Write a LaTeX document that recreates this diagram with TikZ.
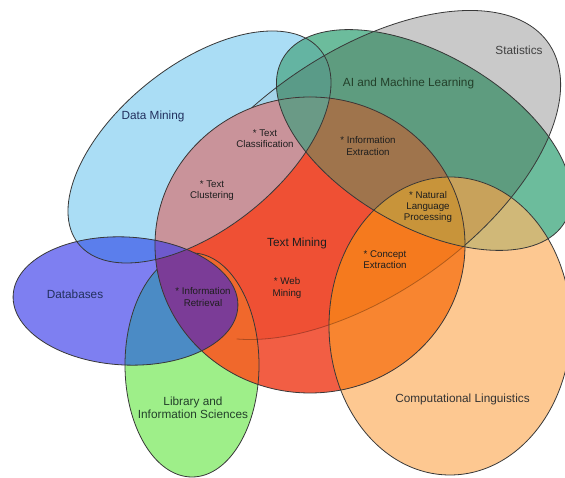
\documentclass[tikz,border=0pt]{standalone}
\usepackage{fontspec}
\setmainfont{Liberation Sans}
\definecolor{cGray}{HTML}{C9C9C9}
\definecolor{cDM}{HTML}{AADDF5}
\definecolor{cGreen}{HTML}{6CBC9C}
\definecolor{cCL}{HTML}{FDC891}
\definecolor{cDB}{HTML}{7E7FF1}
\definecolor{cLib}{HTML}{9EEF89}
\definecolor{cTM}{HTML}{F25E44}
\definecolor{cDMGray}{HTML}{A4D4EA}
\definecolor{cGG}{HTML}{5E9C7F}
\definecolor{cDMG}{HTML}{64B4A2}
\definecolor{cDMGG}{HTML}{5A9B88}
\definecolor{cCLG}{HTML}{D0B878}
\definecolor{cCLGG}{HTML}{C8A25B}
\definecolor{cDBDM}{HTML}{5B7EEC}
\definecolor{cDBLib}{HTML}{4B8BC5}
\definecolor{cTMG}{HTML}{EF5034}
\definecolor{cPink}{HTML}{C9939A}
\definecolor{cBrown}{HTML}{9F744C}
\definecolor{cDMTMG}{HTML}{6A9A86}
\definecolor{cOrange}{HTML}{F88530}
\definecolor{cOrangeG}{HTML}{F57A1E}
\definecolor{cGold}{HTML}{C8943A}
\definecolor{cTMLib}{HTML}{F0682C}
\definecolor{cPurple}{HTML}{7B3C97}
\definecolor{cTMDBDM}{HTML}{6E5ACD}
\definecolor{cTxt}{HTML}{1E1E1E}
\definecolor{cTxtBlue}{HTML}{22305E}
\definecolor{cTxtGreen}{HTML}{23402A}
\newcommand\ShDM[1]{\path[#1,shift={(199.5,331)},rotate=38.6] (0,0) ellipse[x radius=155,y radius=82];}
\newcommand\ShGray[1]{\path[#1,shift={(360,303)},rotate=35] (0,0) ellipse[x radius=230,y radius=120];}
\newcommand\ShGreen[1]{\path[#1,shift={(424,338)},rotate=-30] (0,0) ellipse[x radius=163,y radius=86];}
\newcommand\ShTM[1]{\path[#1] (310,233) ellipse[x radius=155,y radius=148];}
\newcommand\ShCL[1]{\path[#1] (450,152) ellipse[x radius=121,y radius=149];}
\newcommand\ShDB[1]{\path[#1,shift={(125.5,177)},rotate=-3] (0,0) ellipse[x radius=112.5,y radius=64];}
\newcommand\ShLib[1]{\path[#1] (192,113) ellipse[x radius=67,y radius=112];}
\newcommand\Two[3]{\begin{scope}#1{clip}#2{fill=#3}\end{scope}}
\newcommand\Three[4]{\begin{scope}#1{clip}#2{clip}#3{fill=#4}\end{scope}}
\begin{document}
\begin{tikzpicture}[x=0.75pt,y=0.75pt,
  outline/.style={draw=black!78,line width=0.6pt},
  faint/.style={draw=black,draw opacity=0.28,line width=0.6pt},
  lbl/.style={font=\fontsize{8.85}{9.8}\selectfont,text=cTxt,inner sep=0pt,align=center},
  sm/.style={font=\fontsize{7.3}{8.6}\selectfont,text=cTxt,inner sep=0pt,align=center}]
\useasboundingbox (0,0) rectangle (565,478);
\fill[white] (0,0) rectangle (565,478);
% single sets
\ShGray{fill=cGray}
\ShDM{fill=cDM}
\ShGreen{fill=cGreen}
\ShCL{fill=cCL}
\ShDB{fill=cDB}
\ShLib{fill=cLib}
% overlaps outside Text Mining
\Two\ShDM\ShGray{cDMGray}
\Two\ShGreen\ShGray{cGG}
\Two\ShDM\ShGreen{cDMG}
\Three\ShDM\ShGreen\ShGray{cDMGG}
\Two\ShCL\ShGreen{cCLG}
\Three\ShCL\ShGreen\ShGray{cCLGG}
\Two\ShDB\ShDM{cDBDM}
\Two\ShDB\ShLib{cDBLib}
\ShGray{outline}
% Text Mining and its overlaps
\ShTM{fill=cTM}
\Two\ShTM\ShGray{cTMG}
\Two\ShTM\ShDM{cPink}
\Two\ShTM\ShGreen{cBrown}
\Three\ShTM\ShGreen\ShDM{cDMTMG}
\Two\ShTM\ShCL{cOrange}
\Three\ShTM\ShCL\ShGray{cOrangeG}
\Three\ShTM\ShCL\ShGreen{cGold}
\Two\ShTM\ShLib{cTMLib}
\ShLib{outline}
\Two\ShTM\ShDB{cPurple}
\Three\ShTM\ShDB\ShDM{cTMDBDM}
\begin{scope}
\ShTM{clip}
\draw[faint,shift={(360,303)},rotate=35] (212:230 and 120) arc[start angle=212,end angle=300,x radius=230,y radius=120];
\end{scope}
% outlines
\ShDM{outline}
\ShGreen{outline}
\ShCL{outline}
\ShTM{outline}
\ShDB{outline}
% labels
\node[lbl,text=black!75] (stat) at (519,428) {Statistics};
\node[lbl,text=cTxtGreen] (aiml) at (408.5,395) {AI and Machine Learning};
\node[lbl,text=cTxtBlue] (dm) at (153,362) {Data Mining};
\node[lbl] (tm) at (297,235) {Text Mining};
\node[lbl,text=cTxtBlue] (db) at (75,184) {Databases};
\node[lbl,text=cTxtGreen] (lib) at (193,70) {Library and\\Information Sciences};
\node[lbl,text=black!80] (cl) at (462.5,79) {Computational Linguistics};
\node[sm] (tcl) at (265,339.5) {* Text\\Classification};
\node[sm] (ie) at (368,332) {* Information\\Extraction};
\node[sm] (tclu) at (212,287.5) {* Text\\Clustering};
\node[sm] (nlp) at (428,271) {* Natural\\Language\\Processing};
\node[sm] (ce) at (385,218.5) {* Concept\\Extraction};
\node[sm] (ir) at (203,181) {* Information\\Retrieval};
\node[sm] (wm) at (287,190) {* Web\\Mining};
\end{tikzpicture}
\end{document}
